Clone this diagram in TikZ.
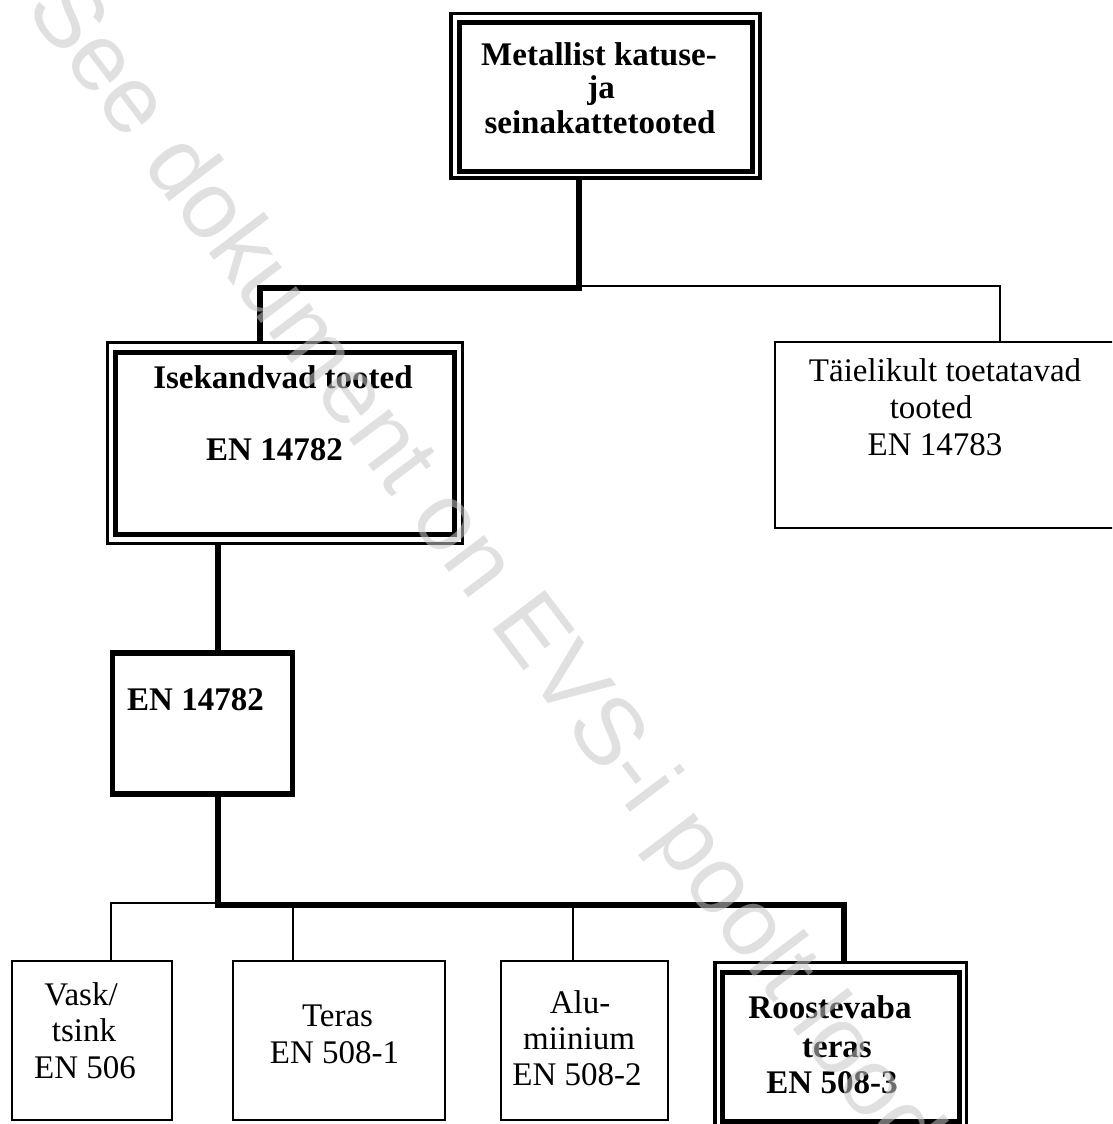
\documentclass[tikz,border=0pt]{standalone}
\usepackage{fontspec}
\setmainfont{Liberation Serif}
\setsansfont{Liberation Sans}
\definecolor{wm}{gray}{0.78}
\begin{document}
\begin{tikzpicture}[x=1pt,y=-1pt,
  thn/.style={line width=2pt},
  thk/.style={line width=5.5pt},
  plainbox/.style={draw, line width=2pt, inner sep=0pt, outer sep=0pt},
  heavybox/.style={draw, line width=5.5pt, inner sep=0pt, outer sep=0pt},
  dblbox/.style={draw, line width=3.3pt, inner sep=0pt, outer sep=0pt},
  innerline/.style={line width=5pt},
  txt/.style={anchor=base, inner sep=0pt, font=\fontsize{33}{36}\selectfont},
  btxt/.style={txt, font=\fontsize{33}{36}\selectfont\bfseries},
  wmark/.style={anchor=base west, rotate=-53, inner sep=0pt, text=wm, text opacity=0.55,
                font=\sffamily\fontsize{95}{95}\selectfont}]
\useasboundingbox (0,0) rectangle (1112,1124);
\clip (0,0) rectangle (1112,1124);
\fill[white] (0,0) rectangle (1112,1124);

% boxes
\node[dblbox, minimum width=309pt, minimum height=164.7pt] (top) at (605.5,95.65) {};
\draw[innerline] ([shift={(8,9.2)}]top.north west) rectangle ([shift={(-7.5,-7)}]top.south east);

\node[dblbox, minimum width=355pt, minimum height=200.6pt] (ise) at (285.2,443) {};
\draw[innerline] ([shift={(7.3,9.3)}]ise.north west) rectangle ([shift={(-8.7,-9.3)}]ise.south east);

\node[plainbox, minimum width=341pt, minimum height=186pt] (tai) at (945.5,434.5) {};

\node[heavybox, minimum width=180pt, minimum height=141pt] (en) at (202.7,723.5) {};

\node[plainbox, minimum width=160pt, minimum height=159pt] (vask) at (92,1040.5) {};
\node[plainbox, minimum width=212pt, minimum height=159pt] (teras) at (339,1040.5) {};
\node[plainbox, minimum width=167pt, minimum height=159pt] (alu) at (584.5,1040.5) {};

\node[dblbox, minimum width=251.5pt, minimum height=167.5pt] (roo) at (840.75,1046.25) {};
\draw[innerline] ([shift={(7.5,10)}]roo.north west) rectangle ([shift={(-7,-9)}]roo.south east);

% junction coordinates
\coordinate (jt) at (579,288);
\coordinate (jl) at (260,288);
\coordinate (jr) at (1000,286);
\coordinate (jb) at (218,905);
\coordinate (jv) at (111,903);
\coordinate (jte) at (293,905);
\coordinate (jal) at (573,905);
\coordinate (jro) at (844,905);

% connectors
\draw[thn] (jt |- jr) -- (jr) -- (tai.north -| jr);
\draw[thk] (top.south -| jt) -- (jt) -- (jl) -- (ise.north -| jl);
\draw[thk] (ise.south -| jb) -- (en.north -| jb);
\draw[thn] (jb |- jv) -- (jv) -- (vask.north -| jv);
\draw[thn] (jte) -- (teras.north -| jte);
\draw[thn] (jal) -- (alu.north -| jal);
\draw[thk] (en.south -| jb) -- (jb) -- (jro) -- (roo.north -| jro);

% texts
\node[btxt] (t1) at (599,65.5) {Metallist katuse-};
\node[btxt] (t2) at (601,99) {ja};
\node[btxt] (t3) at (600,133) {seinakattetooted};

\node[btxt] (i1) at (283,388) {Isekandvad tooted};
\node[btxt] (i2) at (274.5,460) {EN 14782};

\node[txt] (a1) at (945,381.5) {Täielikult toetatavad};
\node[txt] (a2) at (931,418) {tooted};
\node[txt] (a3) at (935,455) {EN 14783};

\node[btxt] (e1) at (195.5,710) {EN 14782};

\node[txt] (v1) at (81,1005) {Vask/};
\node[txt] (v2) at (84,1041.5) {tsink};
\node[txt] (v3) at (85,1078) {EN 506};

\node[txt] (r1) at (337.5,1026.5) {Teras};
\node[txt] (r2) at (334.5,1063) {EN 508-1};

\node[txt] (l1) at (580,1013) {Alu-};
\node[txt] (l2) at (579,1049) {miinium};
\node[txt] (l3) at (577,1085) {EN 508-2};

\node[btxt] (o1) at (830,1018) {Roostevaba};
\node[btxt] (o2) at (837,1057) {teras};
\node[btxt] (o3) at (832,1093) {EN 508-3};

% watermark
\node[wmark] (wmk) at (24,8) {See dokument on EVS-i poolt loodud eelvaade};
\end{tikzpicture}
\end{document}
